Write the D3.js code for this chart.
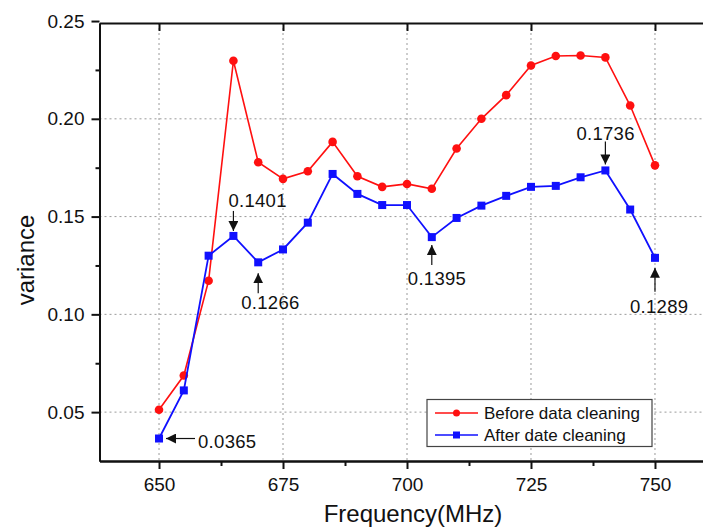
<!DOCTYPE html>
<html>
<head>
<meta charset="utf-8">
<script src="https://cdn.jsdelivr.net/npm/d3@7"></script>
<style>
  body { margin: 0; background: #fff; }
  svg { display: block; font-family: "Liberation Sans", Arial, sans-serif; }
</style>
</head>
<body>
<script>
(function() {
  'use strict';

  // chart data
  const freq = [650, 655, 660, 665, 670, 675, 680, 685, 690, 695, 700,
    705, 710, 715, 720, 725, 730, 735, 740, 745, 750];
  const before = [0.0512, 0.0687, 0.1172, 0.2297, 0.1778, 0.1693, 0.1732, 0.1882, 0.1706, 0.1652, 0.1667,
    0.1642, 0.1848, 0.2000, 0.2121, 0.2273, 0.2321, 0.2324, 0.2314, 0.2068, 0.1762];
  const after = [0.0365, 0.0611, 0.1300, 0.1401, 0.1266, 0.1332, 0.1469, 0.1718, 0.1616, 0.1559, 0.1559,
    0.1395, 0.1493, 0.1556, 0.1606, 0.1652, 0.1657, 0.1701, 0.1736, 0.1536, 0.1289];
  const seriesNames = ['Before data cleaning', 'After date cleaning'];
  const xTicks = [650, 675, 700, 725, 750];
  const xMinor = [662.5, 687.5, 712.5, 737.5];
  const yTicks = [0.05, 0.10, 0.15, 0.20, 0.25];
  const yMinor = [0.075, 0.125, 0.175, 0.225];
  const marked = [650, 665, 670, 705, 740, 750];

  const w = 703;
  const h = 530;
  const left = 99.5;
  const top = 23;
  const bottom = 461;

  const xScale = d3.scaleLinear().domain([638, 762]).range([left, 714.5]);
  const yScale = d3.scaleLinear().domain([0.025, 0.249]).range([bottom, top]);

  const svg = d3.select('body').append('svg')
    .attr('width', w)
    .attr('height', h);

  // grid
  svg.append('g').selectAll('line')
    .data(xTicks)
    .enter().append('line')
    .attr('x1', (d) => xScale(d)).attr('x2', (d) => xScale(d))
    .attr('y1', top).attr('y2', bottom)
    .attr('stroke', '#9a9a9a').attr('stroke-dasharray', '2,3');
  svg.append('g').selectAll('line')
    .data(yTicks.filter((d) => d < 0.249))
    .enter().append('line')
    .attr('x1', left).attr('x2', w)
    .attr('y1', (d) => yScale(d)).attr('y2', (d) => yScale(d))
    .attr('stroke', '#9a9a9a').attr('stroke-dasharray', '2,3');

  // axes
  const xAxis = svg.append('g')
    .attr('transform', 'translate(0,' + bottom + ')')
    .call(d3.axisBottom(xScale).tickValues(xTicks).tickSize(8).tickPadding(9).tickSizeOuter(0));
  svg.append('g')
    .attr('transform', 'translate(0,' + bottom + ')')
    .call(d3.axisBottom(xScale).tickValues(xMinor).tickSize(5).tickFormat('').tickSizeOuter(0));
  svg.append('g')
    .attr('transform', 'translate(0,' + top + ')')
    .call(d3.axisBottom(xScale).tickValues(xTicks).tickSize(8).tickFormat('').tickSizeOuter(0));
  const yAxis = svg.append('g')
    .attr('transform', 'translate(' + left + ',0)')
    .call(d3.axisLeft(yScale).tickValues(yTicks).tickSize(8).tickPadding(7)
      .tickFormat(d3.format('.2f')).tickSizeOuter(0));
  svg.append('g')
    .attr('transform', 'translate(' + left + ',0)')
    .call(d3.axisLeft(yScale).tickValues(yMinor).tickSize(4).tickFormat('').tickSizeOuter(0));

  svg.selectAll('.domain').attr('stroke', '#111').attr('stroke-width', 2);
  svg.selectAll('.tick line').attr('stroke', '#111').attr('stroke-width', 2);
  xAxis.selectAll('text').attr('font-size', 19).attr('fill', '#111').attr('font-family', null);
  yAxis.selectAll('text').attr('font-size', 19).attr('fill', '#111').attr('font-family', null);

  // axis titles
  svg.append('text')
    .attr('x', 413).attr('y', 522)
    .attr('text-anchor', 'middle')
    .attr('font-size', 24).attr('fill', '#111')
    .text('Frequency(MHz)');
  svg.append('text')
    .attr('transform', 'translate(34,260) rotate(-90)')
    .attr('text-anchor', 'middle')
    .attr('font-size', 24).attr('fill', '#111')
    .text('variance');

  // lines
  const line = d3.line()
    .x((d) => xScale(d[0]))
    .y((d) => yScale(d[1]));
  const redPts = freq.map((f, i) => [f, before[i]]);
  const bluePts = freq.map((f, i) => [f, after[i]]);

  svg.append('path').datum(redPts)
    .attr('d', line).attr('fill', 'none')
    .attr('stroke', '#ff1010').attr('stroke-width', 1.6);
  svg.append('g').selectAll('circle')
    .data(redPts).enter().append('circle')
    .attr('cx', (d) => xScale(d[0])).attr('cy', (d) => yScale(d[1]))
    .attr('r', 4.3).attr('fill', '#ff1010');

  svg.append('path').datum(bluePts)
    .attr('d', line).attr('fill', 'none')
    .attr('stroke', '#1010ff').attr('stroke-width', 1.8);
  svg.append('g').selectAll('rect')
    .data(bluePts).enter().append('rect')
    .attr('x', (d) => xScale(d[0]) - 4).attr('y', (d) => yScale(d[1]) - 4)
    .attr('width', 8).attr('height', 8).attr('fill', '#1010ff');

  // arrow annotations
  svg.append('defs').append('marker')
    .attr('id', 'head')
    .attr('viewBox', '0 0 10 10')
    .attr('refX', 10).attr('refY', 5)
    .attr('markerWidth', 10).attr('markerHeight', 10)
    .attr('markerUnits', 'userSpaceOnUse')
    .attr('orient', 'auto')
    .append('path').attr('d', 'M0,0L10,5L0,10z').attr('fill', '#111');

  // offsets relative to the point: arrow tail, arrow tip, text start
  const layout = {
    650: { tail: [36, 0], tip: [7, 0], text: [39, 9] },
    665: { tail: [0, -25], tip: [0, -5], text: [-5, -29] },
    670: { tail: [0, 31], tip: [0, 11], text: [-17, 47] },
    705: { tail: [0, 28], tip: [0, 8], text: [-24, 48] },
    740: { tail: [0, -29], tip: [0, -6], text: [-29, -30] },
    750: { tail: [0, 34], tip: [0, 10], text: [-25, 55] }
  };

  marked.forEach((f) => {
    const v = after[freq.indexOf(f)];
    const px = xScale(f);
    const py = yScale(v);
    const l = layout[f];
    svg.append('line')
      .attr('x1', px + l.tail[0]).attr('y1', py + l.tail[1])
      .attr('x2', px + l.tip[0]).attr('y2', py + l.tip[1])
      .attr('stroke', '#111').attr('stroke-width', 1.2)
      .attr('marker-end', 'url(#head)');
    svg.append('text')
      .attr('x', px + l.text[0]).attr('y', py + l.text[1])
      .attr('font-size', 18.5).attr('letter-spacing', 0.3).attr('fill', '#111')
      .text(v.toFixed(4));
  });

  // legend
  const legend = svg.append('g');
  legend.append('rect')
    .attr('x', 427).attr('y', 399.5)
    .attr('width', 225).attr('height', 47)
    .attr('fill', '#fff').attr('stroke', '#444').attr('stroke-width', 1.2);
  const colors = ['#ff1010', '#1010ff'];
  seriesNames.forEach((name, i) => {
    const y = 413 + i * 22;
    legend.append('line')
      .attr('x1', 435).attr('x2', 478)
      .attr('y1', y).attr('y2', y)
      .attr('stroke', colors[i]).attr('stroke-width', 1.6);
    if (i === 0) {
      legend.append('circle').attr('cx', 456.5).attr('cy', y).attr('r', 3.5).attr('fill', colors[i]);
    } else {
      legend.append('rect').attr('x', 453).attr('y', y - 3.5)
        .attr('width', 7).attr('height', 7).attr('fill', colors[i]);
    }
    legend.append('text')
      .attr('x', 484).attr('y', y + 6)
      .attr('font-size', 17).attr('fill', '#111')
      .text(name);
  });
}());
</script>
</body>
</html>
